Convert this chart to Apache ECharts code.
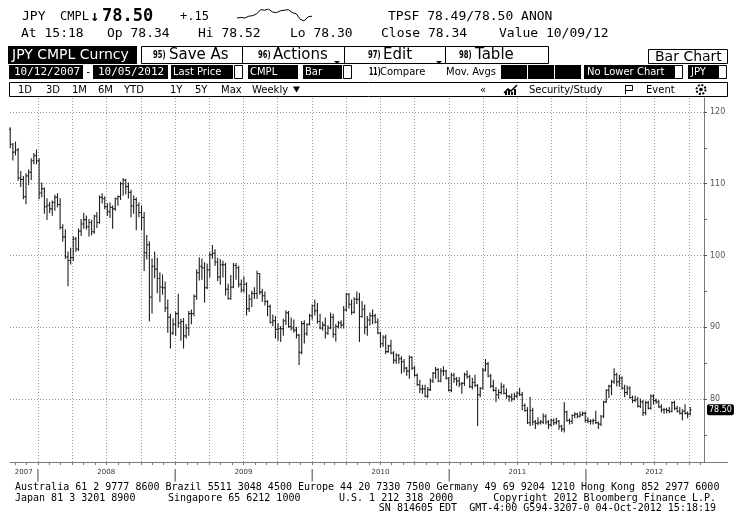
<!DOCTYPE html>
<html><head><meta charset="utf-8">
<script src="https://cdn.jsdelivr.net/npm/echarts@6/dist/echarts.min.js"></script>
<style>html,body{margin:0;padding:0;background:#fff}#c{width:736px;height:527px}</style>
</head><body><div id="c"></div>
<script>
// ---- data (weekly bars, week ending Fridays from first week) ----
const weekStart = '2007-10-19';
const opens = [
117.6,115.5,114.4,114.7,110.8,110.6,108.2,111.1,111.6,113.2,
113.9,113.2,108.7,109.3,106.8,107.0,106.5,107.4,108.1,107.1,
103.9,102.6,99.8,99.3,99.7,102.3,100.9,103.4,104.4,105.0,
104.0,104.6,103.3,105.5,104.6,108.1,107.9,106.8,106.1,106.7,
106.5,107.9,108.2,110.0,110.5,109.6,108.8,106.9,107.8,107.0,
106.0,105.3,100.4,101.5,94.2,98.5,98.1,96.8,95.6,95.5,
92.7,91.4,89.2,90.4,91.9,90.6,90.8,88.8,89.9,91.9,
91.9,94.3,97.6,98.5,98.3,95.5,98.0,100.1,100.3,99.1,
97.0,98.7,98.7,95.3,94.0,95.6,98.6,98.3,96.0,95.2,
96.0,92.6,93.9,94.7,94.7,97.5,94.9,94.4,93.6,92.9,
90.7,90.9,89.7,89.8,89.8,90.9,92.0,90.1,89.9,89.6,
88.9,86.5,90.5,89.1,90.4,91.6,93.0,92.3,90.8,89.9,
90.3,89.2,89.9,91.4,89.0,90.1,90.6,90.3,92.4,94.6,
93.2,92.1,93.9,93.9,91.5,92.5,90.0,91.0,91.6,91.6,
90.7,89.2,87.7,88.6,86.6,87.4,86.4,85.4,86.1,85.6,
85.2,84.3,83.9,85.8,84.3,83.3,82.0,81.4,81.4,80.4,
81.3,82.5,83.6,84.1,82.5,83.9,83.9,82.9,81.2,83.3,
82.8,82.5,82.1,82.2,83.4,83.1,81.7,82.3,81.9,80.6,
81.5,84.0,84.9,83.2,81.8,81.2,80.6,80.9,81.7,80.8,
80.4,80.3,80.0,80.4,80.8,80.6,79.1,78.4,76.7,78.4,
76.8,76.6,76.7,76.8,77.6,76.8,76.4,77.0,76.7,76.9,
76.2,75.8,78.2,77.0,76.9,77.7,77.9,77.6,77.8,78.0,
77.0,76.9,76.9,77.0,76.7,76.5,77.6,79.6,81.2,81.8,
82.4,83.4,82.4,82.9,81.5,80.9,81.5,80.2,79.8,79.9,
79.0,79.6,78.1,79.5,78.7,80.4,79.8,79.6,78.9,78.5,
78.5,78.4,78.3,79.5,78.7,78.3,78.0,78.3,78.0,77.9];
const highs = [
117.8,115.6,115.8,114.9,111.7,111.0,111.4,111.9,113.5,114.2,
114.7,113.5,110.1,109.4,107.9,107.4,107.6,108.4,108.6,107.9,
104.3,103.6,100.5,101.0,102.6,102.5,103.7,105.0,105.9,105.5,
105.0,104.9,105.6,106.0,108.3,108.6,108.2,107.2,107.3,106.9,
108.0,108.3,110.2,110.7,110.6,110.1,109.1,108.3,108.0,107.3,
106.9,106.0,102.8,101.9,99.5,100.5,99.6,97.6,97.3,96.3,
93.8,91.8,91.2,92.1,94.6,91.1,91.2,90.4,92.2,92.4,
94.5,98.0,99.7,99.5,99.0,98.8,100.4,101.4,100.8,99.6,
99.4,99.2,98.9,96.0,97.2,98.9,98.9,98.5,96.6,97.0,
96.2,94.5,95.0,95.5,97.8,97.5,95.3,94.9,93.7,93.1,
91.7,91.5,90.5,90.1,91.1,92.3,92.2,91.3,91.0,90.0,
89.0,90.8,90.9,90.5,91.8,93.1,93.8,93.3,91.8,90.7,
91.3,90.2,92.0,91.8,90.4,90.8,90.9,92.9,94.7,94.7,
93.8,94.1,94.9,94.7,93.6,93.1,91.5,92.0,92.4,91.8,
91.2,89.3,88.8,88.9,87.5,88.2,86.6,86.3,86.2,85.9,
85.5,84.4,86.0,85.9,84.5,83.5,82.6,81.9,81.9,81.6,
82.8,83.7,84.4,84.2,84.2,84.5,84.0,83.0,83.6,83.6,
83.0,83.0,82.3,83.6,83.9,83.3,82.9,83.3,82.0,81.6,
84.3,85.5,85.1,83.4,82.6,81.6,81.3,82.2,82.0,81.4,
80.5,80.7,80.8,81.0,81.5,80.9,79.3,78.8,80.2,78.7,
77.0,77.4,77.0,77.9,77.8,77.0,77.2,77.2,77.3,77.0,
76.3,79.5,78.3,77.2,77.8,78.1,78.0,78.2,78.2,78.2,
77.4,77.1,77.2,78.3,76.8,77.7,79.7,81.3,81.9,82.6,
84.2,83.6,83.3,83.1,81.9,81.8,81.7,80.4,80.4,80.2,
80.0,79.8,79.7,79.7,80.6,80.6,80.0,79.8,79.2,78.7,
78.7,78.8,79.6,79.7,79.0,78.8,78.5,79.2,78.2,78.8];
const lows = [
115.0,113.3,114.0,110.5,109.6,107.9,107.2,109.9,110.6,112.8,
112.8,107.9,108.2,105.9,105.0,106.0,105.6,106.3,106.8,103.7,
102.0,99.6,95.8,98.8,99.3,100.6,100.7,102.8,103.8,103.7,
102.7,102.9,103.1,103.9,104.5,107.3,106.5,105.6,105.3,103.8,
106.3,107.0,107.8,108.4,108.6,108.0,105.4,105.9,103.6,105.4,
103.6,97.9,99.5,90.9,92.0,96.9,94.8,93.6,94.6,92.2,
89.3,87.1,89.0,88.9,90.0,88.2,87.1,88.5,88.9,90.5,
91.6,93.9,96.6,96.7,93.5,95.4,97.0,99.6,98.6,96.5,
96.0,97.0,94.5,93.9,93.9,95.5,96.7,95.6,94.9,94.9,
91.7,92.2,92.9,94.0,94.0,94.6,93.6,93.1,91.6,90.6,
90.2,88.5,88.2,88.0,88.9,90.4,90.0,89.6,89.3,88.5,
84.8,86.3,87.8,88.9,90.3,91.1,91.7,90.6,89.8,89.6,
88.5,89.0,89.8,88.6,88.1,89.9,89.9,89.9,92.3,92.7,
91.8,92.0,93.3,88.0,91.4,89.1,88.9,90.3,90.5,90.6,
89.1,87.2,87.3,86.3,86.5,86.3,85.0,85.0,85.0,83.6,
83.8,83.3,82.9,84.1,83.2,81.9,80.9,80.8,80.3,80.2,
81.2,82.3,82.9,82.4,82.4,83.3,82.8,81.1,81.0,82.3,
81.9,81.7,80.8,81.9,82.9,81.6,81.4,81.7,76.3,80.3,
81.4,83.9,83.1,81.6,81.1,79.6,80.1,80.7,80.7,80.1,
79.7,79.7,79.9,80.2,80.5,78.5,78.3,76.6,76.3,76.4,
75.9,76.4,76.5,76.6,76.5,75.9,76.2,76.4,76.5,75.8,
75.5,75.4,76.9,76.5,76.6,77.4,77.4,77.5,77.7,76.8,
76.7,76.5,76.5,76.6,75.9,76.3,77.4,79.5,80.2,80.6,
82.2,81.8,81.8,81.4,80.3,80.6,80.1,79.5,79.6,78.9,
78.8,77.7,77.8,78.6,78.6,79.3,79.4,78.8,78.2,78.0,
78.1,78.1,78.2,78.5,78.2,77.9,77.1,77.9,77.4,77.8];
const closes = [
115.5,114.4,114.7,110.8,110.6,108.2,111.1,111.6,113.2,113.9,
113.2,108.7,109.3,106.8,107.0,106.5,107.4,108.1,107.1,103.9,
102.6,99.8,99.3,99.7,102.3,100.9,103.4,104.4,105.0,104.0,
104.6,103.3,105.5,104.6,108.1,107.9,106.8,106.1,106.7,106.5,
107.9,108.2,110.0,110.5,109.6,108.8,106.9,107.8,107.0,106.0,
105.3,100.4,101.5,94.2,98.5,98.1,96.8,95.6,95.5,92.7,
91.4,89.2,90.4,91.9,90.6,90.8,88.8,89.9,91.9,91.9,
94.3,97.6,98.5,98.3,95.5,98.0,100.1,100.3,99.1,97.0,
98.7,98.7,95.3,94.0,95.6,98.6,98.3,96.0,95.2,96.0,
92.6,93.9,94.7,94.7,97.5,94.9,94.4,93.6,92.9,90.7,
90.9,89.7,89.8,89.8,90.9,92.0,90.1,89.9,89.6,88.9,
86.5,90.5,89.1,90.4,91.6,93.0,92.3,90.8,89.9,90.3,
89.2,89.9,91.4,89.0,90.1,90.6,90.3,92.4,94.6,93.2,
92.1,93.9,93.9,91.5,92.5,90.0,91.0,91.6,91.6,90.7,
89.2,87.7,88.6,86.6,87.4,86.4,85.4,86.1,85.6,85.2,
84.3,83.9,85.8,84.3,83.3,82.0,81.4,81.4,80.4,81.3,
82.5,83.6,84.1,82.5,83.9,83.9,82.9,81.2,83.3,82.8,
82.5,82.1,82.2,83.4,83.1,81.7,82.3,81.9,80.6,81.5,
84.0,84.9,83.2,81.8,81.2,80.6,80.9,81.7,80.8,80.4,
80.3,80.0,80.4,80.8,80.6,79.1,78.4,76.7,78.4,76.8,
76.6,76.7,76.8,77.6,76.8,76.4,77.0,76.7,76.9,76.2,
75.8,78.2,77.0,76.9,77.7,77.9,77.6,77.8,78.0,77.0,
76.9,76.9,77.0,76.7,76.5,77.6,79.6,81.2,81.8,82.4,
83.4,82.4,82.9,81.5,80.9,81.5,80.2,79.8,79.9,79.0,
79.6,78.1,79.5,78.7,80.4,79.8,79.6,78.9,78.5,78.5,
78.4,78.3,79.5,78.7,78.3,78.0,78.3,78.0,77.9,78.5];
const lastPrice = 78.50;
const sparkValues = [78.35,78.36,78.35,78.38,78.39,78.42,78.49,78.48,78.50,78.45,78.44,78.47,78.48,78.49,78.44,78.42,78.33,78.30,78.37,78.38];
const yTickLabels = [80, 90, 100, 110, 120];
const yTicks = [75, 80, 85, 90, 95, 100, 105, 110, 115, 120];
const yearLabels = ['2007', '2008', '2009', '2010', '2011', '2012'];
const yearLabelDates = ['2007-11-24', '2008-07-01', '2009-07-02', '2010-07-02', '2011-07-02', '2012-07-01'];
const yearBounds = ['2008-01-01', '2009-01-01', '2010-01-01', '2011-01-01', '2012-01-01'];

// ---- build ----
const DAY = 86400000;
const ts = s => { const p = s.split('-').map(Number); return Date.UTC(p[0], p[1] - 1, p[2]); };
const T0 = Date.UTC(2008, 0, 1);
const start = ts(weekStart);
const barData = opens.map((o, i) => [start + i * 7 * DAY, o, highs[i], lows[i], closes[i]]);

const monthTicks = [];
for (let y = 2007; y <= 2012; y++) for (let m = 0; m < 12; m++) {
  const t = Date.UTC(y, m, 1);
  if (t > Date.UTC(2007, 9, 20) && t < Date.UTC(2012, 10, 10)) monthTicks.push(t);
}
const quarterLines = [];
for (let y = 2008; y <= 2012; y++) for (let m = 0; m < 12; m += 3) quarterLines.push(Date.UTC(y, m, 1));

const labelMap = {};
yearLabelDates.forEach((d, i) => labelMap[ts(d)] = yearLabels[i]);
yearBounds.forEach(d => labelMap[ts(d)] = '|');
const labelVals = yearLabelDates.map(ts).concat(yearBounds.map(ts));

const mono = (s, w) => (w || '') + ' ' + s + 'px "DejaVu Sans Mono"';
const sans = (s, w) => (w || '') + ' ' + s + 'px "DejaVu Sans"';
const G = [];
function T(x, y, text, font, fill, align, sx) {
  G.push({ type: 'text', x: x, y: y, scaleX: sx || 1, silent: true, style: { text: text, font: font, fill: fill || '#000', align: align || 'left', verticalAlign: 'middle' } });
}
function R(x, y, w, h, fill, stroke) {
  G.push({ type: 'rect', silent: true, shape: { x: x, y: y, width: w, height: h }, style: { fill: fill || 'none', stroke: stroke || null, lineWidth: 1 } });
}
function L(x1, y1, x2, y2, c, w) {
  G.push({ type: 'line', silent: true, shape: { x1: x1, y1: y1, x2: x2, y2: y2 }, style: { stroke: c || '#000', lineWidth: w || 1 } });
}
function P(points, fill, stroke) {
  G.push({ type: 'polygon', silent: true, shape: { points: points }, style: { fill: fill || '#000', stroke: stroke || null } });
}
// row 1
T(22, 17, 'JPY', mono(13)); T(60, 17, 'CMPL', mono(12)); T(90, 17.5, '\u2193', mono(15, 'bold'));
T(102, 17, '78.50', mono(17, 'bold')); T(180, 17, '+.15', mono(12));
T(388, 17, 'TPSF 78.49/78.50 ANON', mono(13));
// row 2
T(21, 34, 'At 15:18', mono(13)); T(107, 34, 'Op 78.34', mono(13)); T(198, 34, 'Hi 78.52', mono(13));
T(290, 34, 'Lo 78.30', mono(13)); T(381, 34, 'Close 78.34', mono(13)); T(499, 34, 'Value 10/09/12', mono(13));
// row 3 buttons
R(8, 46, 129, 18, '#000'); T(12, 55.5, 'JPY CMPL Curncy', sans(14), '#fff');
R(141.5, 46.5, 101, 17, '#fff', '#000'); T(153, 55.5, '95)', sans(11, 'bold'), '#000', 'left', 0.62); T(169, 55.5, 'Save As', sans(15));
R(242.5, 46.5, 102, 17, '#fff', '#000'); T(258, 55.5, '96)', sans(11, 'bold'), '#000', 'left', 0.62); T(273, 55.5, 'Actions', sans(15));
P([[334, 61], [340, 61], [337, 64]]);
R(344.5, 46.5, 101, 17, '#fff', '#000'); T(368, 55.5, '97)', sans(11, 'bold'), '#000', 'left', 0.62); T(383, 55.5, 'Edit', sans(15));
P([[436, 61], [442, 61], [439, 64]]);
R(445.5, 46.5, 103, 17, '#fff', '#000'); T(459, 55.5, '98)', sans(11, 'bold'), '#000', 'left', 0.62); T(475, 55.5, 'Table', sans(15));
R(648.5, 49.5, 79, 14, '#fff', '#000'); T(655, 57, 'Bar Chart', sans(14));
// row 4
R(9, 65, 74, 14, '#000'); T(14, 72, '10/12/2007', mono(11), '#fff');
T(85, 72, '-', mono(11));
R(93, 65, 75, 14, '#000'); T(98, 72, '10/05/2012', mono(11), '#fff');
R(171, 65, 62, 14, '#000'); T(173, 72, 'Last Price', sans(10), '#fff');
R(234.5, 65.5, 8, 13, '#fff', '#000');
R(248, 65, 50, 14, '#000'); T(250, 72, 'CMPL', sans(10), '#fff');
R(303, 65, 39, 14, '#000'); T(305, 72, 'Bar', sans(10), '#fff');
R(343.5, 65.5, 8, 13, '#fff', '#000');
T(369, 72, '11)', sans(10, 'bold'), '#000', 'left', 0.62); T(380, 72, 'Compare', sans(10));
T(446, 72, 'Mov. Avgs', sans(10));
R(501, 65, 26, 14, '#000'); R(528, 65, 26, 14, '#000'); R(555, 65, 26, 14, '#000');
R(584, 65, 90, 14, '#000'); T(587, 72, 'No Lower Chart', sans(10), '#fff');
R(674.5, 65.5, 8, 13, '#fff', '#000');
R(688, 65, 30, 14, '#000'); T(691, 72, 'JPY', sans(10), '#fff');
R(718.5, 65.5, 8, 13, '#fff', '#000');
// row 5
R(9.5, 82.5, 718, 14, '#fff', '#000');
[['1D', 18], ['3D', 46], ['1M', 72], ['6M', 98], ['YTD', 124], ['1Y', 170], ['5Y', 195], ['Max', 221], ['Weekly', 252]].forEach(a => T(a[1], 90, a[0], sans(10)));
P([[293, 86.5], [300, 86.5], [296.5, 92.5]]);
T(480, 90, '\u00ab', sans(10));
G.push({ type: 'polyline', silent: true, shape: { points: [[504, 93], [508, 89], [511, 91], [517, 85]] }, style: { stroke: '#000', lineWidth: 1.5, fill: null } });
R(505, 91, 2, 4, '#000'); R(508, 90, 2, 5, '#000'); R(511, 92, 2, 3, '#000'); R(514, 89, 2, 6, '#000');
T(529, 90, 'Security/Study', sans(10));
L(625.5, 85, 625.5, 94, '#000'); R(625.5, 85.5, 7, 5, 'none', '#000');
T(646, 90, 'Event', sans(10));
G.push({ type: 'circle', silent: true, shape: { cx: 701, cy: 89.5, r: 4.5 }, style: { fill: '#fff', stroke: '#000', lineWidth: 2, lineDash: [2, 1.5] } });
G.push({ type: 'circle', silent: true, shape: { cx: 701, cy: 89.5, r: 1.8 }, style: { fill: '#000' } });
// bottom axis extension
L(704, 462.5, 728, 462.5, '#7a7a7a');
// footer
T(15, 487, 'Australia 61 2 9777 8600 Brazil 5511 3048 4500 Europe 44 20 7330 7500 Germany 49 69 9204 1210 Hong Kong 852 2977 6000', mono(10));
T(15, 498, 'Japan 81 3 3201 8900', mono(10)); T(168, 498, 'Singapore 65 6212 1000', mono(10));
T(339, 498, 'U.S. 1 212 318 2000', mono(10)); T(716, 498, 'Copyright 2012 Bloomberg Finance L.P.', mono(10), '#000', 'right');
T(716, 508, 'SN 814605 EDT  GMT-4:00 G594-3207-0 04-Oct-2012 15:18:19', mono(10), '#000', 'right');

const gridLineData = yTickLabels.map(v => ({ yAxis: v })).concat(quarterLines.map(t => ({ xAxis: t })));

const option = {
  animation: false,
  backgroundColor: '#fff',
  grid: [
    { left: 10, right: 32, top: 98, bottom: 65 },
    { left: 237, top: 9, width: 75, height: 15 }
  ],
  xAxis: [{
    type: 'value', min: T0 - 74.65 * DAY, max: T0 + 1775.6 * DAY,
    axisLine: { show: true, lineStyle: { color: '#7a7a7a', width: 1 } },
    axisTick: { show: true, customValues: monthTicks, length: 3, lineStyle: { color: '#7a7a7a' } },
    axisLabel: {
      show: true, customValues: labelVals, margin: 7, fontSize: 7, color: '#333', fontFamily: 'DejaVu Sans',
      formatter: v => labelMap[v] === '|' ? '{s||}' : '{y|' + (labelMap[v] || '') + '}',
      rich: { y: { fontSize: 7, color: '#333', fontFamily: 'DejaVu Sans' }, s: { fontSize: 13, color: '#555', fontFamily: 'DejaVu Sans' } }
    },
    splitLine: { show: false }
  }, { gridIndex: 1, type: 'category', show: false, boundaryGap: false, data: sparkValues.map((v, i) => i) }],
  yAxis: [{
    type: 'value', position: 'right', min: 71.22, max: 121.95,
    axisLine: { show: true, lineStyle: { color: '#7a7a7a', width: 1 } },
    axisTick: { show: true, customValues: yTicks, length: 3, lineStyle: { color: '#555' } },
    axisLabel: { customValues: yTickLabels, fontSize: 8, color: '#555', margin: 6, fontFamily: 'DejaVu Sans' },
    splitLine: { show: false }
  }, { gridIndex: 1, type: 'value', show: false, scale: true }],
  graphic: G,
  series: [
    {
      type: 'line', data: [[T0, 100]], showSymbol: false, symbolSize: 0, lineStyle: { opacity: 0 }, silent: true, z: 1,
      markLine: {
        silent: true, animation: false, symbol: ['none', 'none'], label: { show: false },
        lineStyle: { type: [1, 2], color: '#9a9a9a', width: 1 },
        data: gridLineData
      }
    },
    {
      type: 'custom', z: 5, data: barData,
      encode: { x: 0, y: [1, 2, 3, 4] },
      renderItem: function (params, api) {
        const x = api.value(0);
        const pH = api.coord([x, api.value(2)]), pL = api.coord([x, api.value(3)]);
        const pO = api.coord([x, api.value(1)]), pC = api.coord([x, api.value(4)]);
        const st = { stroke: '#1e1e1e', lineWidth: 1.1 };
        return {
          type: 'group', children: [
            { type: 'line', shape: { x1: pH[0], y1: pH[1] - 0.5, x2: pL[0], y2: pL[1] + 0.5 }, style: st },
            { type: 'line', shape: { x1: pO[0] - 1.3, y1: pO[1], x2: pO[0], y2: pO[1] }, style: st },
            { type: 'line', shape: { x1: pC[0], y1: pC[1], x2: pC[0] + 1.3, y2: pC[1] }, style: st }
          ]
        };
      }
    },
    {
      type: 'line', data: [[T0, lastPrice]], showSymbol: false, lineStyle: { width: 0 }, silent: true, z: 6,
      markLine: {
        silent: true, animation: false, symbol: ['none', 'none'],
        lineStyle: { color: 'rgba(0,0,0,0)', width: 0 },
        label: { show: true, position: 'end', distance: 3, formatter: lastPrice.toFixed(2), color: '#fff', backgroundColor: '#000', padding: [2, 2, 1, 2], fontSize: 8, borderRadius: 2, fontFamily: 'DejaVu Sans' },
        data: [{ yAxis: lastPrice }]
      }
    },
    {
      type: 'line', xAxisIndex: 1, yAxisIndex: 1, data: sparkValues, showSymbol: false, silent: true,
      lineStyle: { color: '#000', width: 1 }
    }
  ]
};
const chart = echarts.init(document.getElementById('c'));
chart.setOption(option);
</script>
</body></html>
